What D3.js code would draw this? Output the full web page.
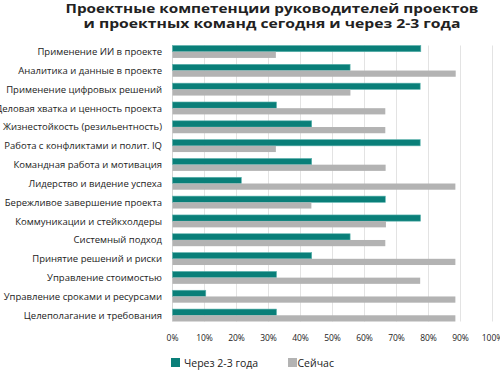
<!DOCTYPE html>
<html>
<head>
<meta charset="utf-8">
<script src="https://cdn.jsdelivr.net/npm/d3@7"></script>
<style>
  body { margin: 0; background: #fff; }
  svg text { font-family: "Open Sans", "Noto Sans", sans-serif; fill: #222; }
</style>
</head>
<body>
<div id="chart"></div>
<script>
const categories = [
  "Применение ИИ в проекте",
  "Аналитика и данные в проекте",
  "Применение цифровых решений",
  "Деловая хватка и ценность проекта",
  "Жизнестойкость (резильентность)",
  "Работа с конфликтами и полит. IQ",
  "Командная работа и мотивация",
  "Лидерство и видение успеха",
  "Бережливое завершение проекта",
  "Коммуникации и стейкхолдеры",
  "Системный подход",
  "Принятие решений и риски",
  "Управление стоимостью",
  "Управление сроками и ресурсами",
  "Целеполагание и требования"
];
const futureValues = [77.6, 55.5, 77.4, 32.5, 43.5, 77.4, 43.5, 21.5, 66.5, 77.5, 55.5, 43.5, 32.5, 10.4, 32.5];
const nowValues = [32.3, 88.5, 55.6, 66.5, 66.5, 32.3, 66.6, 88.4, 43.4, 66.7, 66.5, 88.4, 77.4, 88.4, 88.4];
const seriesNames = ["Через 2-3 года", "Сейчас"];
const xTicks = [0, 10, 20, 30, 40, 50, 60, 70, 80, 90, 100];
const titleLines = [
  "Проектные компетенции руководителей проектов",
  "и проектных команд сегодня и через 2-3 года"
];

const colors = ["#0a7f79", "#b3b3b3"];
const width = 500, height = 370;
const margin = { top: 45.5, right: 8, bottom: 48.5, left: 172.5 };

const svg = d3.select("#chart").append("svg")
  .attr("width", width)
  .attr("height", height);

const x = d3.scaleLinear()
  .domain([0, 100])
  .range([margin.left, margin.left + 320]);

const y = d3.scaleBand()
  .domain(categories)
  .range([margin.top, height - margin.bottom])
  .paddingInner(0.34)
  .paddingOuter(0);

const ySub = d3.scaleBand()
  .domain(seriesNames)
  .range([0, y.bandwidth()]);

// title, stretched to the width of the original heading
const titleWidths = [413, 377];
svg.append("g")
  .selectAll("text")
  .data(titleLines)
  .join("text")
  .attr("x", 272)
  .attr("y", (d, i) => 12.8 + i * 15.6)
  .attr("text-anchor", "middle")
  .attr("font-size", 13)
  .attr("font-weight", 700)
  .attr("textLength", (d, i) => titleWidths[i])
  .attr("lengthAdjust", "spacingAndGlyphs")
  .text(d => d);

// grid
svg.append("g")
  .selectAll("line")
  .data(xTicks.slice(1))
  .join("line")
  .attr("x1", d => x(d))
  .attr("x2", d => x(d))
  .attr("y1", margin.top)
  .attr("y2", height - margin.bottom)
  .attr("stroke", "#e3e3e3")
  .attr("stroke-width", 1);

svg.append("line")
  .attr("x1", x(0))
  .attr("x2", x(0))
  .attr("y1", margin.top)
  .attr("y2", height - margin.bottom)
  .attr("stroke", "#d6d6d6");

// x tick labels
svg.append("g")
  .selectAll("text")
  .data(xTicks)
  .join("text")
  .attr("x", d => x(d))
  .attr("y", 341)
  .attr("text-anchor", "middle")
  .attr("font-size", 8.5)
  .text(d => d + "%");

// category labels
svg.append("g")
  .selectAll("text")
  .data(categories)
  .join("text")
  .attr("x", 162)
  .attr("y", d => y(d) + y.bandwidth() / 2 + 3.4)
  .attr("text-anchor", "end")
  .attr("font-size", 9.5)
  .text(d => d);

// bars
const rows = categories.map((c, i) => ({ cat: c, values: [futureValues[i], nowValues[i]] }));

const groups = svg.append("g")
  .selectAll("g")
  .data(rows)
  .join("g")
  .attr("transform", d => `translate(0,${y(d.cat)})`);

groups.selectAll("rect")
  .data(d => d.values.map((v, j) => ({ name: seriesNames[j], value: v, j })))
  .join("rect")
  .attr("x", x(0))
  .attr("y", d => ySub(d.name))
  .attr("width", d => x(d.value) - x(0))
  .attr("height", ySub.bandwidth())
  .attr("fill", d => colors[d.j])
  .attr("stroke", d => d.j === 0 ? "#5db3ae" : "none")
  .attr("stroke-width", 0.6);

// legend
const legendPos = [171, 288];
const legend = svg.append("g")
  .selectAll("g")
  .data(seriesNames)
  .join("g")
  .attr("transform", (d, i) => `translate(${legendPos[i]},358)`);

legend.append("rect")
  .attr("width", 9)
  .attr("height", 9)
  .attr("fill", (d, i) => colors[i]);

legend.append("text")
  .attr("x", (d, i) => i === 0 ? 13 : 9.5)
  .attr("y", 8.5)
  .attr("font-size", 10.5)
  .text(d => d);
</script>
</body>
</html>
